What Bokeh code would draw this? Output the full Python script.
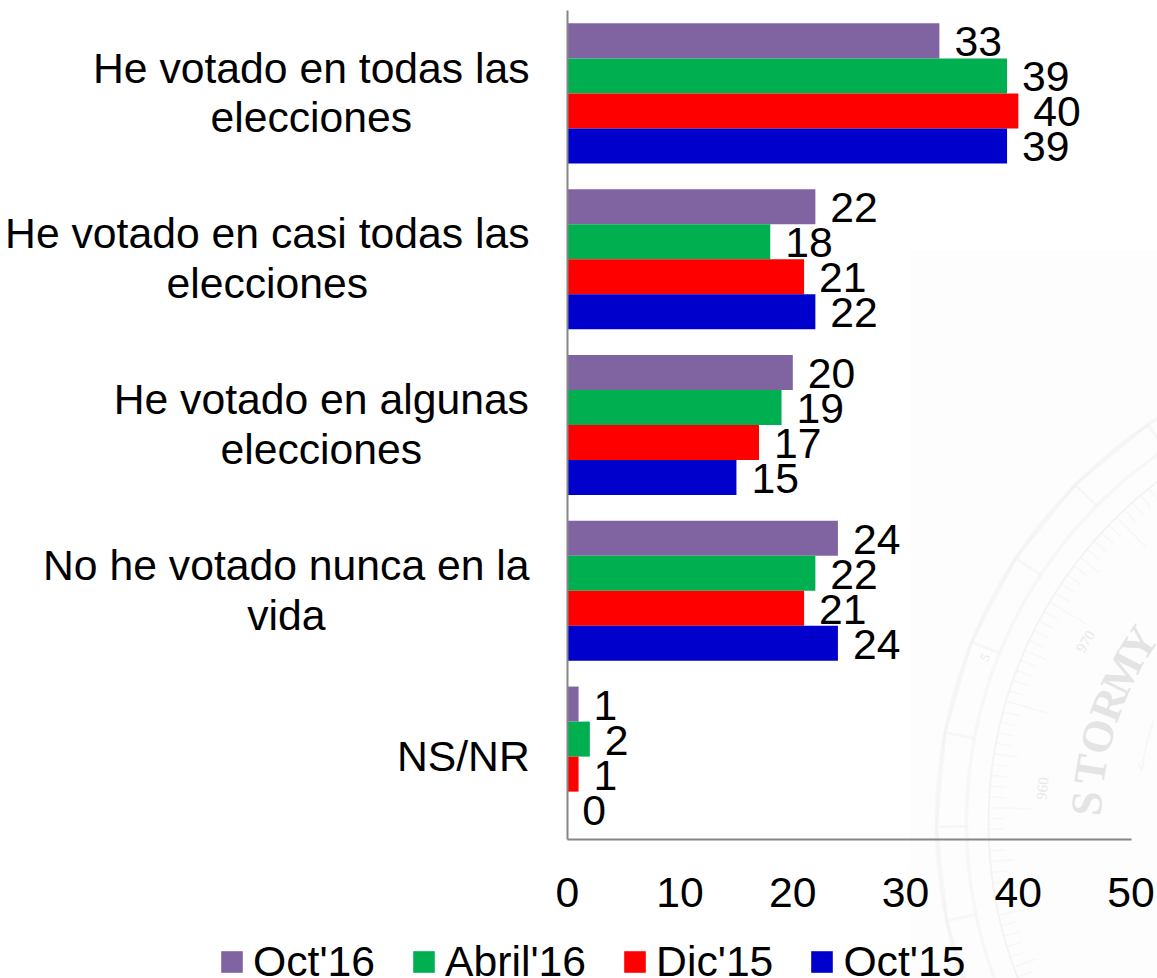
import numpy as np
from bokeh.plotting import figure
from bokeh.models import (ColumnDataSource, Range1d, Label, Legend, LegendItem,
                          PolyAnnotation, BoxAnnotation)
from bokeh.core.properties import value
from bokeh.embed import file_html
from bokeh.resources import INLINE

categories = ["He votado en todas las\nelecciones", "He votado en casi todas las\nelecciones",
              "He votado en algunas\nelecciones", "No he votado nunca en la\nvida", "NS/NR"]
series_names = ["Oct'16", "Abril'16", "Dic'15", "Oct'15"]
oct16 = [33, 22, 20, 24, 1]
abril16 = [39, 18, 19, 22, 2]
dic15 = [40, 21, 17, 21, 1]
oct15 = [39, 22, 15, 24, 0]
series_values = [oct16, abril16, dic15, oct15]
colors = ["#8064A2", "#00B050", "#FF0000", "#0000CC"]
label_half_widths = [217, 261, 207, 242, 65]
x_ticks = [0, 10, 20, 30, 40, 50]

FONT = "Liberation Sans"
FS = "42.7px"
W, H = 1157, 978

# the plot frame fills the page so that nothing outside the axes is clipped
X0, X50, Y_TOP, Y_BOT = 566.8, 1130.6, 10.0, 839.0
ppx = (X50 - X0) / 50
ppy = (Y_BOT - Y_TOP) / len(categories)
p = figure(width=W, height=H, output_backend="svg", toolbar_location=None,
           x_range=Range1d(-X0 / ppx, (W - X0) / ppx),
           y_range=Range1d((Y_BOT - H) / ppy, Y_BOT / ppy),
           min_border=0, min_border_left=0, min_border_right=0, min_border_top=0, min_border_bottom=0)
p.outline_line_color = None
p.grid.visible = False
p.background_fill_color = None
p.border_fill_color = None

# faint barometer dial behind the chart
DC = "#ebebeb"
LV = "underlay"
cx, cy = 1416, 822


def arc(r, a0=100, a1=265):
    t = np.radians(np.linspace(a0, a1, 200))
    return cx + r * np.cos(t), cy - r * np.sin(t)


def path(xs, ys, lw):
    xs, ys = list(xs), list(ys)
    p.add_layout(PolyAnnotation(xs=xs + xs[::-1], ys=ys + ys[::-1], xs_units="canvas", ys_units="canvas",
                                fill_alpha=0, line_color=DC, line_width=lw, level=LV))


p.add_layout(BoxAnnotation(left=910, right=W, top=250, bottom=H, left_units="canvas", right_units="canvas",
                           top_units="canvas", bottom_units="canvas", fill_color="#fdfdfd", fill_alpha=1,
                           line_color=None, level=LV))
for r, lw in [(480, 3.5), (450, 3.5), (428, 2)]:
    path(*arc(r), lw)
zx, zy = [], []
for k, deg in enumerate(np.arange(120, 262, 1.45)):
    t = np.radians(deg)
    r2 = 385 if k % 10 == 0 else (404 if k % 5 == 0 else 412)
    zx += [cx + 428 * np.cos(t), cx + r2 * np.cos(t), cx + 428 * np.cos(t)]
    zy += [cy - 428 * np.sin(t), cy - r2 * np.sin(t), cy - 428 * np.sin(t)]
path(zx, zy, 1.5)
zx, zy = [], []
for deg in np.arange(124, 262, 11.3):
    t = np.radians(deg)
    zx += [cx + 480 * np.cos(t), cx + 450 * np.cos(t), cx + 480 * np.cos(t)]
    zy += [cy - 480 * np.sin(t), cy - 450 * np.sin(t), cy - 480 * np.sin(t)]
path(zx, zy, 3)
path([1153, 1146, 1141, 1144, 1141, 1138], [720, 743, 770, 762, 770, 762], 1.5)
for k, ch in enumerate("STORMY"):
    deg = 176.7 - k * 5.9
    t = np.radians(deg)
    p.add_layout(Label(x=cx + 330 * np.cos(t), y=cy - 330 * np.sin(t), x_units="canvas", y_units="canvas",
                       text=ch, angle=np.radians(deg - 90), text_font="Liberation Serif", text_font_size="44px",
                       text_color="#e4e4e4", text_font_style="bold", text_align="center",
                       text_baseline="middle", level=LV))
for txt, px, py, ang, fs in [("970", 1085, 641, 1.0, "15px"), ("960", 1042, 788, 1.47, "15px"),
                             ("5", 985, 657, 1.1, "13px")]:
    p.add_layout(Label(x=px, y=py, x_units="canvas", y_units="canvas", text=txt, angle=ang,
                       text_font="Liberation Serif", text_font_size=fs, text_color="#e8e8e8",
                       text_align="center", text_baseline="middle", level=LV))

n = len(categories)
cat_y = [n - j - 0.5 for j in range(n)]
bar_h = 0.2112
offsets = [1.5 * bar_h, 0.5 * bar_h, -0.5 * bar_h, -1.5 * bar_h]
data = dict(cat=categories)
for i, vals in enumerate(series_values):
    data[f"s{i}"] = vals
    data[f"t{i}"] = [str(v) for v in vals]
    data[f"y{i}"] = [c + offsets[i] for c in cat_y]
src = ColumnDataSource(data)

items = []
for i, name in enumerate(series_names):
    r = p.hbar(y=f"y{i}", right=f"s{i}", left=0, height=bar_h, source=src, fill_color=colors[i], line_color=None)
    p.text(x=f"s{i}", y=f"y{i}", text=f"t{i}", source=src, x_offset=15, y_offset=1, text_align="left",
           text_baseline="middle", text_font=value(FONT), text_font_size=FS, text_color="black")
    items.append(LegendItem(label=name, renderers=[r]))

for c, yc, hw in zip(categories, cat_y, label_half_widths):
    p.add_layout(Label(x=0, y=yc, x_offset=-39 - hw, y_offset=1, text=c, text_align="center",
                       text_baseline="middle", text_font=FONT, text_font_size=FS, text_color="black",
                       text_line_height=1.03))

p.yaxis.fixed_location = 0
p.yaxis.bounds = (0, n)
p.yaxis.ticker = []
p.yaxis.major_tick_line_color = None
p.yaxis.minor_tick_line_color = None
p.yaxis.axis_line_color = "#868686"
p.yaxis.axis_line_width = 2

p.xaxis.fixed_location = 0
p.xaxis.bounds = (0, 50)
p.xaxis.ticker = x_ticks
p.xaxis.major_tick_line_color = None
p.xaxis.minor_tick_line_color = None
p.xaxis.axis_line_color = "#868686"
p.xaxis.axis_line_width = 2
p.xaxis.major_label_standoff = 32
p.xaxis.major_label_text_font = FONT
p.xaxis.major_label_text_font_size = FS
p.xaxis.major_label_text_color = "black"

legend = Legend(items=items, orientation="horizontal", location=(218, -8), padding=0, margin=0,
                spacing=35, label_standoff=8, glyph_width=27, glyph_height=27, border_line_color=None,
                background_fill_alpha=0, label_text_font=FONT, label_text_font_size=FS,
                label_text_color="black", label_text_baseline="middle")
p.add_layout(legend, "center")

open("out.html", "w").write(file_html(p, INLINE))
